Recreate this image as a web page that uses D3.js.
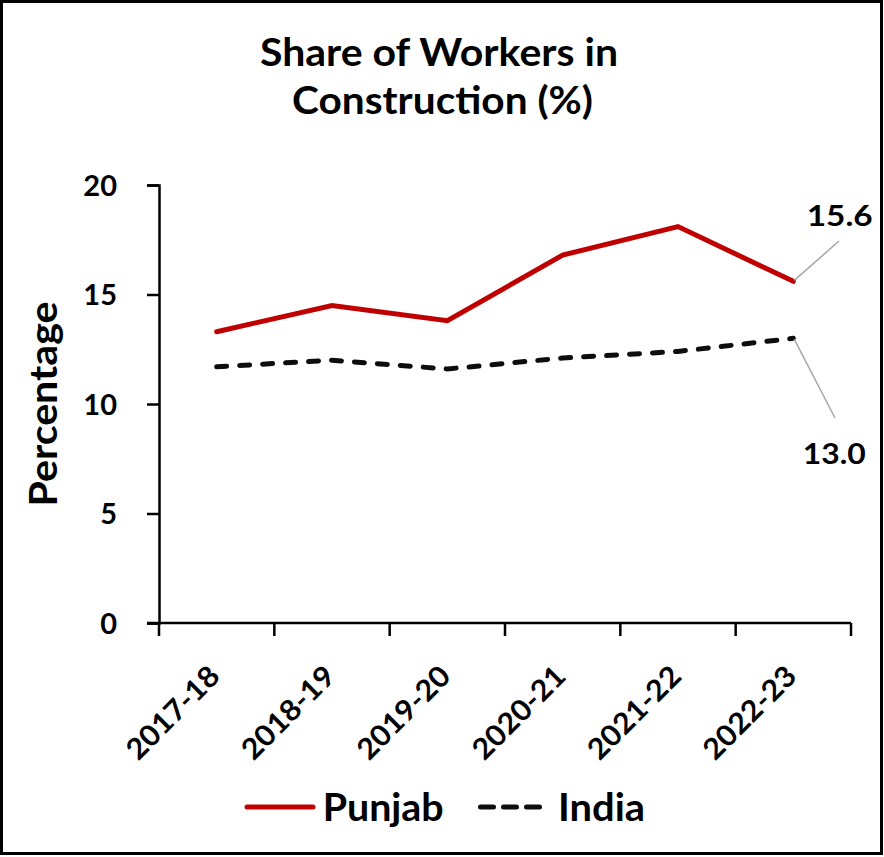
<!DOCTYPE html>
<html>
<head>
<meta charset="utf-8">
<script src="https://cdn.jsdelivr.net/npm/d3@7"></script>
<style>
  html, body { margin: 0; padding: 0; background: #fff; }
  svg { display: block; }
  text { font-family: Lato, "Open Sans", sans-serif; font-weight: bold; fill: #000; }
</style>
</head>
<body>
<svg id="chart" width="884" height="857"></svg>
<script>
const categories = ["2017-18", "2018-19", "2019-20", "2020-21", "2021-22", "2022-23"];
const punjab = [13.3, 14.5, 13.8, 16.8, 18.1, 15.6];
const india = [11.7, 12.0, 11.6, 12.1, 12.4, 13.0];
const yTicks = [0, 5, 10, 15, 20];
const titleLines = ["Share of Workers in", "Construction (%)"];
const yTitle = "Percentage";
const seriesNames = ["Punjab", "India"];

const svg = d3.select("#chart");

// outer border
svg.append("rect")
  .attr("x", 1.5).attr("y", 1.5).attr("width", 880).attr("height", 852)
  .attr("fill", "#fff").attr("stroke", "#000").attr("stroke-width", 3);

const x = d3.scaleBand().domain(categories).range([159, 851]);
const y = d3.scaleLinear().domain([0, 20]).range([623, 185]);
const cx = d => x(d) + x.bandwidth() / 2;

// title
const titleY = [66, 114];
const titleX = [439, 442.5];
const titleLen = [358, 301];
titleLines.forEach((t, i) => {
  svg.append("text")
    .attr("x", titleX[i]).attr("y", titleY[i])
    .attr("text-anchor", "middle")
    .attr("font-size", 39)
    .attr("textLength", titleLen[i]).attr("lengthAdjust", "spacingAndGlyphs")
    .text(t);
});

// y axis
const yAxis = svg.append("g").attr("transform", "translate(159,0)")
  .call(d3.axisLeft(y).tickValues(yTicks).tickSize(12).tickPadding(0).tickFormat(d3.format("d")));
yAxis.select(".domain").attr("stroke", "#000").attr("stroke-width", 2.5);
yAxis.selectAll(".tick line").attr("stroke", "#000").attr("stroke-width", 2.5);
yAxis.selectAll(".tick text")
  .attr("x", -42).attr("dy", "0.36em")
  .attr("font-size", 29)
  .style("font-family", "Lato, sans-serif").style("font-weight", "bold").attr("fill", "#000");

// x axis
const xAxis = svg.append("g").attr("transform", "translate(0,623)")
  .call(d3.axisBottom(x).tickSize(0).tickPadding(0));
xAxis.select(".domain").attr("stroke", "#000").attr("stroke-width", 2.5)
  .attr("d", "M147,0H851");
// boundary ticks between categories
const bounds = categories.map(c => x(c)).concat([x(categories[categories.length - 1]) + x.bandwidth()]);
svg.append("g").selectAll("line").data(bounds).join("line")
  .attr("x1", d => d).attr("x2", d => d).attr("y1", 623).attr("y2", 636)
  .attr("stroke", "#000").attr("stroke-width", 2.5);
xAxis.selectAll(".tick text")
  .attr("text-anchor", "end")
  .attr("x", 0).attr("y", 0).attr("dy", 0)
  .attr("transform", "translate(5,55) rotate(-45)")
  .attr("font-size", 29)
  .attr("textLength", 118).attr("lengthAdjust", "spacingAndGlyphs")
  .style("font-family", "Lato, sans-serif").style("font-weight", "bold").attr("fill", "#000");

// y title
svg.append("text")
  .attr("transform", "translate(57,404) rotate(-90)")
  .attr("text-anchor", "middle")
  .attr("font-size", 37.7)
  .attr("textLength", 205).attr("lengthAdjust", "spacingAndGlyphs")
  .text(yTitle);

// lines
const line = d3.line().x((d, i) => cx(categories[i])).y(d => y(d));
svg.append("path").datum(punjab).attr("d", line)
  .attr("fill", "none").attr("stroke", "#C00000").attr("stroke-width", 5)
  .attr("stroke-linecap", "round").attr("stroke-linejoin", "miter");
svg.append("path").datum(india).attr("d", line)
  .attr("fill", "none").attr("stroke", "#0d0d0d").attr("stroke-width", 5)
  .attr("stroke-dasharray", "10,13").attr("stroke-linecap", "round");

// data labels with leader lines
const last = categories.length - 1;
const lx = cx(categories[last]);
svg.append("line")
  .attr("x1", lx + 1).attr("y1", y(punjab[last]) - 1).attr("x2", 839).attr("y2", 241)
  .attr("stroke", "#A6A6A6").attr("stroke-width", 1.5);
svg.append("line")
  .attr("x1", lx + 1).attr("y1", y(india[last]) + 1).attr("x2", 835).attr("y2", 418)
  .attr("stroke", "#A6A6A6").attr("stroke-width", 1.5);
svg.append("text")
  .attr("x", 806.7).attr("y", 226).attr("font-size", 29)
  .attr("textLength", 66).attr("lengthAdjust", "spacingAndGlyphs")
  .text(d3.format(".1f")(punjab[last]));
svg.append("text")
  .attr("x", 802.7).attr("y", 464).attr("font-size", 29)
  .attr("textLength", 63).attr("lengthAdjust", "spacingAndGlyphs")
  .text(d3.format(".1f")(india[last]));

// legend
const lg = svg.append("g");
lg.append("line").attr("x1", 247).attr("x2", 313).attr("y1", 807).attr("y2", 807)
  .attr("stroke", "#C00000").attr("stroke-width", 5).attr("stroke-linecap", "round");
lg.append("text").attr("x", 322.7).attr("y", 821).attr("font-size", 37.5)
  .attr("textLength", 121).attr("lengthAdjust", "spacingAndGlyphs").text(seriesNames[0]);
lg.append("line").attr("x1", 480.5).attr("x2", 543).attr("y1", 807).attr("y2", 807)
  .attr("stroke", "#0d0d0d").attr("stroke-width", 5)
  .attr("stroke-dasharray", "13,10").attr("stroke-linecap", "round");
lg.append("text").attr("x", 558).attr("y", 821).attr("font-size", 37.5)
  .attr("textLength", 87).attr("lengthAdjust", "spacingAndGlyphs").text(seriesNames[1]);
</script>
</body>
</html>
